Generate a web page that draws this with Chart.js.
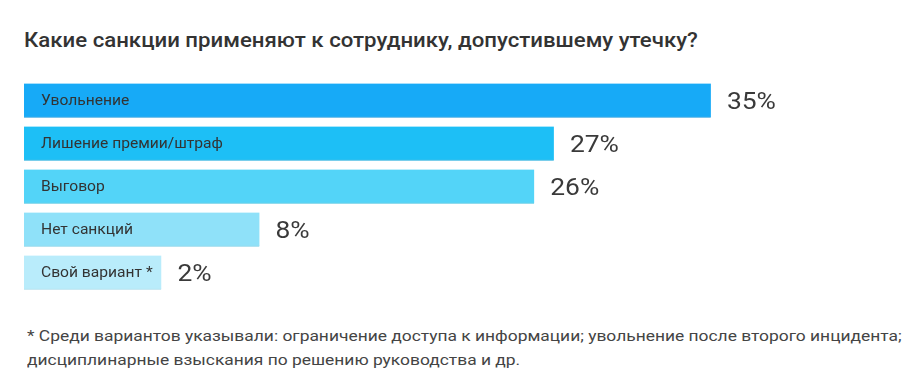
<!DOCTYPE html>
<html>
<head>
<meta charset="utf-8">
<script src="https://cdn.jsdelivr.net/npm/chart.js@4"></script>
<style>
  body { margin: 0; background: #fff; font-family: Roboto, sans-serif; width: 920px; height: 392px; position: relative; overflow: hidden; }
  h1 { position: absolute; left: 24px; top: 28px; margin: 0; font-size: 20px; font-weight: 500; color: #333; white-space: nowrap; transform: scaleX(1.11); transform-origin: left top; }
  #wrap { position: absolute; left: 0; top: 79px; width: 920px; height: 215px; }
  .note { position: absolute; left: 27px; top: 324px; margin: 0; font-size: 15px; line-height: 24px; color: #444; white-space: nowrap; transform: scaleX(1.16); transform-origin: left top; }
</style>
</head>
<body>
<h1>Какие санкции применяют к сотруднику, допустившему утечку?</h1>
<div id="wrap"><canvas id="sanctionsChart"></canvas></div>
<p class="note">* Среди вариантов указывали: ограничение доступа к информации; увольнение после второго инцидента;<br>дисциплинарные взыскания по решению руководства и др.</p>
<script>
// Data
const categories = ['Увольнение', 'Лишение премии/штраф', 'Выговор', 'Нет санкций', 'Свой вариант *'];
const values = [35, 27, 26, 8, 2];
// bar lengths as drawn in the picture (small bars are widened to hold their label)
const barLengths = [35, 27, 26, 12, 7];
const barColors = ['#17aaf7', '#1dbff6', '#53d4f8', '#8fe1f9', '#b9ecfb'];
const borderColors = ['#1096dc', '#14a9dc', '#3cbfe0', '#78cde6', '#9fd9ea'];

// text drawn a little wider, like the reference lettering
function wideText(ctx, text, x, y, sx) {
    ctx.save();
    ctx.translate(x, y);
    ctx.scale(sx, 1);
    ctx.fillText(text, 0, 0);
    ctx.restore();
}

// Draw the category name inside the bar and the value after it
const labelPlugin = {
    id: 'barLabels',
    afterDatasetsDraw(chart) {
        const ctx = chart.ctx;
        const meta = chart.getDatasetMeta(0);
        ctx.save();
        ctx.textBaseline = 'middle';
        ctx.textAlign = 'left';
        meta.data.forEach(function(bar, i) {
            const y = bar.y + 1;
            ctx.fillStyle = '#333';
            ctx.font = '14px Roboto';
            wideText(ctx, categories[i], bar.base + 17, y, 1.115);
            ctx.font = '24px Roboto';
            ctx.fillStyle = '#3a3a3a';
            wideText(ctx, values[i] + '%', bar.x + 16, y + 1.5, 1.1);
        });
        ctx.restore();
    }
};

function loadSanctionsChart() {
    const ctx = document.getElementById('sanctionsChart').getContext('2d');
    new Chart(ctx, {
        type: 'bar',
        data: {
            labels: categories,
            datasets: [{
                data: barLengths,
                backgroundColor: barColors,
                borderColor: borderColors,
                borderWidth: { top: 0, left: 0, right: 0, bottom: 1 },
                borderSkipped: false,
                barThickness: 34
            }]
        },
        options: {
            indexAxis: 'y',
            responsive: true,
            maintainAspectRatio: false,
            animation: false,
            layout: { padding: { left: 24, right: 111, top: 0, bottom: 0 } },
            plugins: {
                legend: { display: false },
                tooltip: { enabled: false }
            },
            scales: {
                x: { display: false, min: 0, max: 40 },
                y: { display: false }
            }
        },
        plugins: [labelPlugin]
    });
}

window.onload = function() {
    loadSanctionsChart();
};
</script>
</body>
</html>
